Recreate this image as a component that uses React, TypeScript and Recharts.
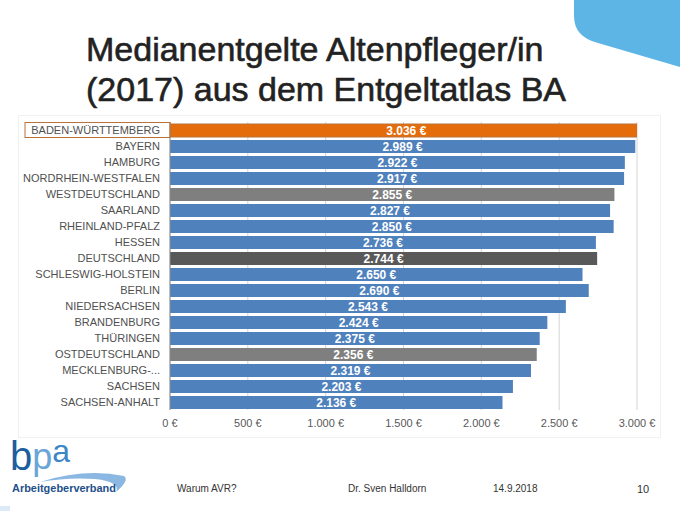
import React from "react";
import {
  BarChart,
  Bar,
  XAxis,
  YAxis,
  CartesianGrid,
  Cell,
  LabelList,
} from "recharts";

const categories = [
  "BADEN-WÜRTTEMBERG",
  "BAYERN",
  "HAMBURG",
  "NORDRHEIN-WESTFALEN",
  "WESTDEUTSCHLAND",
  "SAARLAND",
  "RHEINLAND-PFALZ",
  "HESSEN",
  "DEUTSCHLAND",
  "SCHLESWIG-HOLSTEIN",
  "BERLIN",
  "NIEDERSACHSEN",
  "BRANDENBURG",
  "THÜRINGEN",
  "OSTDEUTSCHLAND",
  "MECKLENBURG-...",
  "SACHSEN",
  "SACHSEN-ANHALT",
];

const values = [
  3036, 2989, 2922, 2917, 2855, 2827, 2850, 2736, 2744, 2650, 2690, 2543,
  2424, 2375, 2356, 2319, 2203, 2136,
];

const groups = [
  "highlight",
  "state",
  "state",
  "state",
  "region",
  "state",
  "state",
  "state",
  "national",
  "state",
  "state",
  "state",
  "state",
  "state",
  "region",
  "state",
  "state",
  "state",
];

const xTicks = [0, 500, 1000, 1500, 2000, 2500, 3000];

const groupColors: Record<string, string> = {
  highlight: "#E46C0A",
  state: "#4F81BD",
  region: "#7F7F7F",
  national: "#595959",
};

const data = categories.map((name, i) => ({
  name,
  value: values[i],
  group: groups[i],
}));

const FONT = '"Liberation Sans", Arial, Helvetica, sans-serif';

function euro(n: number): string {
  if (n >= 1000) {
    const th = Math.floor(n / 1000);
    const rest = String(n % 1000).padStart(3, "0");
    return `${th}.${rest} €`;
  }
  return `${n} €`;
}

const YTick = (props: any) => {
  const { x, y, payload, index } = props;
  return (
    <g>
      {index === 0 && (
        <rect
          x={x - 135}
          y={y - 7.5}
          width={145}
          height={15}
          fill="none"
          stroke="#B9733A"
          strokeWidth={1}
        />
      )}
      <text
        x={x}
        y={y}
        dy="0.36em"
        textAnchor="end"
        fontSize={11}
        fontFamily={FONT}
        fill="#505050"
      >
        {payload.value}
      </text>
    </g>
  );
};

export default function App() {
  return (
    <div
      style={{
        position: "absolute",
        left: 0,
        top: 0,
        width: 680,
        height: 511,
        overflow: "hidden",
        background: "#ffffff",
        fontFamily: FONT,
      }}
    >
      <svg
        width={680}
        height={511}
        style={{ position: "absolute", left: 0, top: 0 }}
      >
        {/* top right decoration */}
        <path
          d="M574 0 L680 0 L680 67 L598 43 Q574 37 574 16 Z"
          fill="#5DB5E6"
        />
        {/* title */}
        <text
          x={86}
          y={61}
          fontSize={34}
          fontFamily={FONT}
          fill="#222222"
          stroke="#222222"
          strokeWidth={0.6}
        >
          Medianentgelte Altenpfleger/in
        </text>
        <text
          x={86}
          y={101}
          fontSize={34}
          fontFamily={FONT}
          fill="#222222"
          stroke="#222222"
          strokeWidth={0.6}
        >
          (2017) aus dem Entgeltatlas BA
        </text>
        {/* chart area frame */}
        <rect
          x={18.5}
          y={115.5}
          width={642}
          height={322}
          fill="none"
          stroke="#f1f1f1"
        />
        {/* logo */}
        <text x={10} y={470} fontFamily={FONT}>
          <tspan fontSize={40} fill="#1E5E9E">
            b
          </tspan>
          <tspan fontSize={36} fill="#6AA5D8" dy={-1}>
            p
          </tspan>
          <tspan fontSize={32} fill="#3D86C6" dy={-7}>
            a
          </tspan>
        </text>
        <path
          d="M40 482 Q85 468 124 476 Q130 480 116 492 Q121 482 95 479 Q68 477 40 482 Z"
          fill="#8AB8E2"
        />
        <text
          x={12}
          y={492}
          fontSize={10}
          fontWeight="bold"
          fontFamily={FONT}
          fill="#1E4F8A"
          textLength={104}
          lengthAdjust="spacingAndGlyphs"
        >
          Arbeitgeberverband
        </text>
        <rect x={0} y={506} width={10} height={5} fill="#DCEAF7" />
        {/* footer */}
        <text x={177} y={492} fontSize={10} fontFamily={FONT} fill="#333333">
          Warum AVR?
        </text>
        <text x={348} y={492} fontSize={10} fontFamily={FONT} fill="#333333">
          Dr. Sven Halldorn
        </text>
        <text x={493} y={492} fontSize={10} fontFamily={FONT} fill="#333333">
          14.9.2018
        </text>
        <text x={637} y={493} fontSize={11} fontFamily={FONT} fill="#333333">
          10
        </text>
      </svg>
      <div style={{ position: "absolute", left: 0, top: 0 }}>
        <BarChart
          width={680}
          height={511}
          layout="vertical"
          data={data}
          margin={{ top: 122, right: 43, bottom: 0, left: 0 }}
          barSize={13}
        >
          <CartesianGrid
            horizontal={false}
            vertical={true}
            stroke="#D4D4D4"
          />
          <XAxis
            type="number"
            domain={[0, 3000]}
            allowDataOverflow={true}
            ticks={xTicks}
            tickFormatter={(v: number) => euro(v)}
            axisLine={false}
            tickLine={false}
            tickSize={0}
            tickMargin={9}
            height={101}
            tick={{ fontSize: 11, fill: "#595959", fontFamily: FONT }}
            interval={0}
          />
          <YAxis
            type="category"
            dataKey="name"
            width={170}
            axisLine={{ stroke: "#8C8C8C" }}
            tickLine={false}
            tickSize={4}
            tickMargin={6}
            interval={0}
            tick={<YTick />}
          />
          <Bar dataKey="value" isAnimationActive={false}>
            {data.map((d, i) => (
              <Cell
                key={i}
                fill={groupColors[d.group]}
                stroke={d.group === "highlight" ? "#B9733A" : "none"}
              />
            ))}
            <LabelList
              dataKey="value"
              position="center"
              formatter={(v: any) => euro(Number(v))}
              fill="#ffffff"
              fontSize={12}
              fontWeight="bold"
              fontFamily={FONT}
            />
          </Bar>
        </BarChart>
      </div>
    </div>
  );
}
